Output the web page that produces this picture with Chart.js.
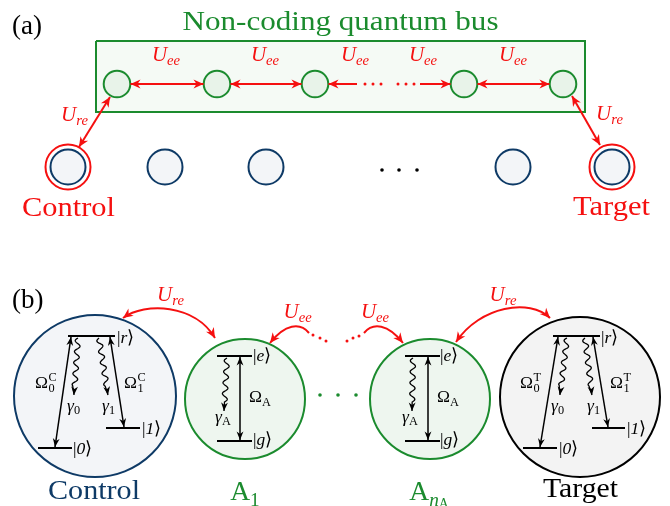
<!DOCTYPE html>
<html>
<head>
<meta charset="utf-8">
<script src="https://cdn.jsdelivr.net/npm/chart.js@4.4.1/dist/chart.umd.min.js"></script>
<style>
  html, body { margin: 0; padding: 0; background: #fff; }
  canvas { display: block; }
</style>
</head>
<body>
<canvas id="fig" width="670" height="506"></canvas>
<script>
// colours
const RED = '#f51010', GREEN = '#1b8b2e', NAVY = '#0e3a66', BLACK = '#000';

// ---- panel (a): non-coding bus above the register (coordinates in figure units) ----
const busBox = [[96, 41], [585, 41], [585, 112], [96, 112], [96, 41]];
const busAtomX = [117, 217, 315, 464, 563];
const busAtomY = 84;
const registerX = [68, 165, 266, 513, 612];
const registerY = 167;
const ringedX = [68, 612];                       // Control, Target
const ueeLinks = [[130.5, 203.5, 'both'], [230.5, 301.5, 'both'], [328.5, 357, 'start'], [420, 450.5, 'end'], [477.5, 549.5, 'both']];
const ueeDotsX = [365, 373, 381, 398, 406, 414];
const ureLinks = [[[110, 97], [79, 147]], [[572, 96], [600, 145]]];
const ellipsisX = [382, 399, 417];
const ellipsisY = 170;
const ueeLabelX = [166, 265, 355, 423, 513];

// ---- panel (b): level schemes ----
const atomX = [95, 245, 430, 580];
const atomY = [396, 399, 399, 397];
const atomR = [81, 60, 60, 80];
const levels = [[68, 115, 336], [38, 72, 448], [106, 140, 428], [217, 252, 356], [217, 252, 441],
                [405, 440, 356], [405, 440, 441], [553, 600, 336], [523, 557, 448], [592, 625, 428]];
const drives = [[[71, 337], [55, 447]], [[110, 337], [124, 427]], [[240, 357], [240, 440]],
                [[428, 357], [428, 440]], [[558, 337], [540, 447]], [[593, 337], [608, 427]]];
const decays = [[[78, 338], [74, 395]], [[99, 338], [108, 395]], [[227, 358], [224, 411]],
                [[413, 358], [412, 411]], [[567, 338], [560, 395]], [[585, 338], [592, 395]]];
// cubic curves: p0, c1, c2, p3, heads
const couplings = [
  [[123, 318], [145, 302], [195, 304], [215, 338], 'both'],
  [[456, 342], [480, 306], [530, 298], [550, 318], 'both'],
  [[309, 333], [300, 322], [285, 324], [270, 343], 'end'],
  [[364, 333], [373, 322], [388, 324], [403, 343], 'end']
];
const redDotsX = [313, 320, 326, 347, 353, 359];
const redDotsY = [335, 338, 341, 341, 338, 336];
const greenDotsX = [320, 338, 356];
const greenDotsY = 395;

// ---- text ----
const UEE = [['U', 'ni'], ['ee', 'bi']];
const URE = [['U', 'ni'], ['re', 'bi']];
const ket = s => [['|', 'nr'], [s, 'ni'], ['\u27E9', 'nr']];
const labels = [
  { x: 12, y: 34, parts: [['(a)', 'nr']], size: 27, color: BLACK },
  { x: 340.5, y: 30, parts: [['Non-coding quantum bus', 'nr']], size: 27.5, color: GREEN, align: 'center', w: 316 },
  ...ueeLabelX.map(x => ({ x, y: 61, parts: UEE, size: 21, color: RED, align: 'center' })),
  { x: 74.5, y: 120.5, parts: URE, size: 21, color: RED, align: 'center' },
  { x: 609.5, y: 120, parts: URE, size: 21, color: RED, align: 'center' },
  { x: 68.5, y: 216, parts: [['Control', 'nr']], size: 27.5, color: RED, align: 'center', w: 93 },
  { x: 611.5, y: 215, parts: [['Target', 'nr']], size: 27.5, color: RED, align: 'center', w: 77 },

  { x: 12, y: 308, parts: [['(b)', 'nr']], size: 27, color: BLACK },
  { x: 170.5, y: 301, parts: URE, size: 21, color: RED, align: 'center' },
  { x: 503, y: 301, parts: URE, size: 21, color: RED, align: 'center' },
  { x: 297.7, y: 318, parts: UEE, size: 21, color: RED, align: 'center' },
  { x: 375, y: 318, parts: UEE, size: 21, color: RED, align: 'center' },

  { x: 117, y: 342.5, parts: ket('r'), size: 17.5, color: BLACK },
  { x: 73, y: 453.5, parts: ket('0'), size: 17.5, color: BLACK },
  { x: 142, y: 433.5, parts: ket('1'), size: 17.5, color: BLACK },
  { x: 253, y: 361, parts: ket('e'), size: 17.5, color: BLACK },
  { x: 253, y: 445, parts: ket('g'), size: 17.5, color: BLACK },
  { x: 440, y: 361, parts: ket('e'), size: 17.5, color: BLACK },
  { x: 440, y: 445, parts: ket('g'), size: 17.5, color: BLACK },
  { x: 601, y: 342.5, parts: ket('r'), size: 17.5, color: BLACK },
  { x: 559, y: 453.5, parts: ket('0'), size: 17.5, color: BLACK },
  { x: 627, y: 433.5, parts: ket('1'), size: 17.5, color: BLACK },

  { x: 35, y: 388, parts: [['\u03A9', 'nr'], ['0|C', 'sr']], size: 17.5, color: BLACK },
  { x: 124, y: 388, parts: [['\u03A9', 'nr'], ['1|C', 'sr']], size: 17.5, color: BLACK },
  { x: 67, y: 410.5, parts: [['\u03B3', 'ni'], ['0', 'br']], size: 17.5, color: BLACK },
  { x: 102, y: 410.5, parts: [['\u03B3', 'ni'], ['1', 'br']], size: 17.5, color: BLACK },
  { x: 520, y: 388, parts: [['\u03A9', 'nr'], ['0|T', 'sr']], size: 17.5, color: BLACK },
  { x: 610, y: 388, parts: [['\u03A9', 'nr'], ['1|T', 'sr']], size: 17.5, color: BLACK },
  { x: 551, y: 410.5, parts: [['\u03B3', 'ni'], ['0', 'br']], size: 17.5, color: BLACK },
  { x: 587, y: 410.5, parts: [['\u03B3', 'ni'], ['1', 'br']], size: 17.5, color: BLACK },
  { x: 249, y: 402, parts: [['\u03A9', 'nr'], ['A', 'br']], size: 17.5, color: BLACK },
  { x: 215, y: 421.5, parts: [['\u03B3', 'ni'], ['A', 'br']], size: 17.5, color: BLACK },
  { x: 437, y: 402, parts: [['\u03A9', 'nr'], ['A', 'br']], size: 17.5, color: BLACK },
  { x: 402, y: 421.5, parts: [['\u03B3', 'ni'], ['A', 'br']], size: 17.5, color: BLACK },

  { x: 94, y: 499, parts: [['Control', 'nr']], size: 27.5, color: NAVY, align: 'center', w: 92 },
  { x: 245, y: 500, parts: [['A', 'nr'], ['1', 'br']], size: 27.5, color: GREEN, align: 'center' },
  { x: 429, y: 500, parts: [['A', 'nr'], ['n', 'bi'], ['A', 'qr']], size: 27.5, color: GREEN, align: 'center' },
  { x: 580.5, y: 497, parts: [['Target', 'nr']], size: 27.5, color: BLACK, align: 'center', w: 75 }
];

// ---- datasets (listed bottom to top) ----
const datasets = [];
function addLine(pts, color, width, fillColor) {
  datasets.push({
    data: pts.map(p => ({ x: p[0], y: p[1] })), showLine: true, borderColor: color, borderWidth: width,
    pointRadius: 0, tension: 0, fill: fillColor ? 'shape' : false, backgroundColor: fillColor || 'transparent'
  });
}
function addPoints(xs, ys, r, fill, stroke, width) {
  datasets.push({
    data: xs.map((x, i) => ({ x, y: Array.isArray(ys) ? ys[i] : ys })), showLine: false,
    pointRadius: r, pointHoverRadius: r, pointBackgroundColor: fill, pointBorderColor: stroke, pointBorderWidth: width
  });
}

addLine(busBox, GREEN, 2, '#f5faf5');
addPoints(ringedX, registerY, 22.5, '#fff', RED, 2);
addPoints(registerX, registerY, 17.5, '#f3f5f8', NAVY, 2);
addPoints(busAtomX, busAtomY, 13.3, '#e8f3e9', GREEN, 2);
ueeLinks.forEach(l => addLine([[l[0], busAtomY], [l[1], busAtomY]], RED, 2));
ureLinks.forEach(l => addLine(l, RED, 2));
addPoints(ueeDotsX, busAtomY, 1.5, RED, RED, 0);
addPoints(ellipsisX, ellipsisY, 1.8, BLACK, BLACK, 0);

addPoints(atomX, atomY, atomR, ['#f3f5f8', '#eef6ef', '#eef6ef', '#f3f3f3'], [NAVY, GREEN, GREEN, BLACK], 2);
levels.forEach(l => addLine([[l[0], l[2]], [l[1], l[2]]], BLACK, 2));
drives.forEach(d => addLine(d, BLACK, 1.5));
addPoints(redDotsX, redDotsY, 1.5, RED, RED, 0);
addPoints(greenDotsX, greenDotsY, 1.8, GREEN, GREEN, 0);

datasets.forEach((d, i) => { d.order = -i; });

// arrow head, stealth-like
function head(ctx, tip, ux, uy, len, half, color) {
  const nx = -uy, ny = ux;
  const bx = tip.x - ux * len, by = tip.y - uy * len;
  ctx.fillStyle = color;
  ctx.beginPath();
  ctx.moveTo(tip.x, tip.y);
  ctx.lineTo(bx + nx * half, by + ny * half);
  ctx.lineTo(tip.x - ux * len * 0.7, tip.y - uy * len * 0.7);
  ctx.lineTo(bx - nx * half, by - ny * half);
  ctx.closePath();
  ctx.fill();
}
function unit(a, b) {
  const dx = b.x - a.x, dy = b.y - a.y, L = Math.hypot(dx, dy);
  return [dx / L, dy / L, L];
}

function drawRich(ctx, px, py, lab) {
  const S = lab.size;
  const fontOf = (sz, it) => (it ? 'italic ' : '') + sz.toFixed(1) + 'px "Liberation Serif"';
  const runs = [];
  let w = 0;
  for (const [t, st] of lab.parts) {
    const it = st[1] === 'i';
    const kind = st[0];
    if (kind === 's') {
      const [lo, hi] = t.split('|');
      const f = fontOf(S * 0.7, it);
      ctx.font = f;
      runs.push({ t: lo, f, x: w + 0.5, dy: S * 0.25 });
      runs.push({ t: hi, f, x: w + 0.5, dy: -S * 0.42 });
      w += Math.max(ctx.measureText(lo).width, ctx.measureText(hi).width) + 0.5;
    } else {
      const sz = kind === 'n' ? S : kind === 'q' ? S * 0.5 : S * 0.7;
      const dy = kind === 'b' ? S * 0.2 : kind === 'q' ? S * 0.3 : kind === 'p' ? -S * 0.42 : 0;
      const f = fontOf(sz, it);
      ctx.font = f;
      runs.push({ t, f, x: w, dy });
      w += ctx.measureText(t).width;
    }
  }
  const k = lab.w ? lab.w / w : 1;
  const x0 = lab.align === 'center' ? px - (w * k) / 2 : px;
  ctx.save();
  ctx.fillStyle = lab.color;
  ctx.textAlign = 'left';
  ctx.textBaseline = 'alphabetic';
  ctx.translate(x0, py);
  ctx.scale(k, 1);
  runs.forEach(r => { ctx.font = r.f; ctx.fillText(r.t, r.x, r.dy); });
  ctx.restore();
}

const figure = {
  id: 'figure',
  afterDatasetsDraw(chart) {
    const ctx = chart.ctx, sx = chart.scales.x, sy = chart.scales.y;
    const P = p => ({ x: sx.getPixelForValue(p[0]), y: sy.getPixelForValue(p[1]) });
    ctx.save();

    // heads on the bus links
    ueeLinks.forEach(l => {
      const a = P([l[0], busAtomY]), b = P([l[1], busAtomY]);
      const [ux, uy] = unit(a, b);
      if (l[2] !== 'start') head(ctx, b, ux, uy, 10, 4.5, RED);
      if (l[2] !== 'end') head(ctx, a, -ux, -uy, 10, 4.5, RED);
    });
    ureLinks.forEach(l => {
      const a = P(l[0]), b = P(l[1]);
      const [ux, uy] = unit(a, b);
      head(ctx, b, ux, uy, 10, 4.5, RED);
      head(ctx, a, -ux, -uy, 10, 4.5, RED);
    });

    // drive arrows (double headed)
    drives.forEach(d => {
      const a = P(d[0]), b = P(d[1]);
      const [ux, uy] = unit(a, b);
      head(ctx, b, ux, uy, 8.5, 3.4, BLACK);
      head(ctx, a, -ux, -uy, 8.5, 3.4, BLACK);
    });

    // wavy decay arrows
    ctx.strokeStyle = BLACK;
    ctx.lineWidth = 1.3;
    decays.forEach(d => {
      const a = P(d[0]), b = P(d[1]);
      const [ux, uy, L] = unit(a, b);
      const nx = -uy, ny = ux, amp = 2.6, lam = 11;
      const wl = L - 9;
      ctx.beginPath();
      ctx.moveTo(a.x, a.y);
      for (let s = 0; s <= wl; s += 0.5) {
        const o = amp * Math.sin((2 * Math.PI * s) / lam);
        ctx.lineTo(a.x + ux * s + nx * o, a.y + uy * s + ny * o);
      }
      ctx.lineTo(b.x, b.y);
      ctx.stroke();
      head(ctx, b, ux, uy, 8.5, 3.4, BLACK);
    });

    // red coupling curves in (b)
    ctx.strokeStyle = RED;
    ctx.lineWidth = 2;
    couplings.forEach(c => {
      const p0 = P(c[0]), c1 = P(c[1]), c2 = P(c[2]), p3 = P(c[3]);
      ctx.beginPath();
      ctx.moveTo(p0.x, p0.y);
      ctx.bezierCurveTo(c1.x, c1.y, c2.x, c2.y, p3.x, p3.y);
      ctx.stroke();
      const [ex, ey] = unit(c2, p3);
      head(ctx, p3, ex, ey, 10, 4.5, RED);
      if (c[4] === 'both') {
        const [sx0, sy0] = unit(c1, p0);
        head(ctx, p0, sx0, sy0, 10, 4.5, RED);
      }
    });

    labels.forEach(lab => {
      const p = P([lab.x, lab.y]);
      drawRich(ctx, p.x, p.y, lab);
    });
    ctx.restore();
  }
};

new Chart(document.getElementById('fig'), {
  type: 'scatter',
  data: { datasets },
  options: {
    responsive: false,
    animation: false,
    events: [],
    layout: { padding: 0, autoPadding: false },
    scales: {
      x: { type: 'linear', min: 0, max: 670, display: false },
      y: { type: 'linear', min: 0, max: 506, reverse: true, display: false }
    },
    plugins: { legend: { display: false }, tooltip: { enabled: false } }
  },
  plugins: [figure]
});
</script>
</body>
</html>
